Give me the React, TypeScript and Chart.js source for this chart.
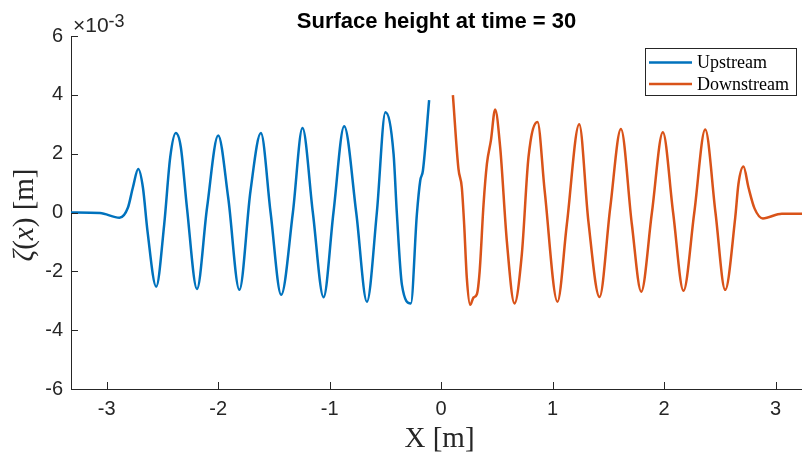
import React, { useEffect, useRef } from "react";
import { Chart, registerables } from "chart.js";

Chart.register(...registerables);

// ---------- data ----------
const TITLE = "Surface height at time = 30";
const X_LABEL = "X [m]";
const Y_EXPONENT = "-3"; // values below are in units of 10^-3 m
const SERIES_LABELS = ["Upstream", "Downstream"];
const X_TICKS = [-3, -2, -1, 0, 1, 2, 3];
const Y_TICKS = [-6, -4, -2, 0, 2, 4, 6];
const X_RANGE = [-3.32, 3.236];
const Y_RANGE = [-6, 6];

const UP_X = [
  -3.32, -3.06, -2.885, -2.81, -2.765, -2.717, -2.675, -2.634, -2.556, -2.484,
  -2.43, -2.38, -2.335, -2.28, -2.19, -2.1, -2.0, -1.91, -1.81, -1.71,
  -1.617, -1.53, -1.435, -1.33, -1.244, -1.151, -1.055, -0.966, -0.87, -0.762,
  -0.666, -0.577, -0.5, -0.427, -0.398, -0.352, -0.272, -0.218, -0.188, -0.164,
  -0.108,
];
const UP_Y = [
  0.0, -0.02, -0.18, 0.16, 0.85, 1.48, 0.85, -0.63, -2.52, -0.4,
  1.88, 2.7, 2.22, 0.16, -2.6, 0.16, 2.62, 0.5, -2.63, 0.74,
  2.7, 0.0, -2.8, 0.0, 2.87, 0.0, -2.88, 0.0, 2.93, 0.0,
  -3.03, 0.0, 3.41, 1.99, 0.0, -2.46, -3.09, -0.06, 1.08, 1.42,
  3.82,
];

const DOWN_X = [
  0.105, 0.155, 0.185, 0.206, 0.23, 0.26, 0.29, 0.32, 0.345, 0.38,
  0.41, 0.446, 0.484, 0.529, 0.589, 0.657, 0.723, 0.783, 0.864, 0.928,
  1.043, 1.127, 1.238, 1.32, 1.42, 1.516, 1.612, 1.71, 1.794, 1.89,
  1.988, 2.08, 2.173, 2.27, 2.368, 2.46, 2.547, 2.637, 2.666, 2.711,
  2.756, 2.81, 2.885, 3.055, 3.24,
];
const DOWN_Y = [
  3.99, 1.48, 0.85, -0.4, -2.23, -3.14, -2.89, -2.78, -2.0, 0.28,
  1.65, 2.45, 3.5, 2.22, -0.98, -3.09, -1.43, 1.88, 3.08, 0.74,
  -3.03, -0.4, 3.0, -0.29, -2.87, 0.16, 2.84, -0.4, -2.69, 0.0,
  2.73, 0.0, -2.66, 0.0, 2.82, 0.0, -2.63, -0.18, 0.97, 1.56,
  0.85, 0.14, -0.2, -0.04, -0.04,
];

// ---------- styling ----------
const AXIS = "#262626";
const BLUE = "#0072BD";
const ORANGE = "#D95319";
const SANS = "'Liberation Sans', Arial, Helvetica, sans-serif";
const SERIF = "'Liberation Serif', 'Times New Roman', serif";

const decorations = {
  id: "decorations",
  afterDraw(chart: any) {
    const { ctx, chartArea: a, scales } = chart;
    const xs = scales.x;
    const ys = scales.y;
    ctx.save();

    // inward tick marks
    ctx.strokeStyle = AXIS;
    ctx.lineWidth = 1;
    ctx.beginPath();
    X_TICKS.forEach((v) => {
      const p = Math.round(xs.getPixelForValue(v)) + 0.5;
      ctx.moveTo(p, a.bottom);
      ctx.lineTo(p, a.bottom - 7);
    });
    Y_TICKS.forEach((v) => {
      const p = Math.round(ys.getPixelForValue(v)) + 0.5;
      ctx.moveTo(a.left, p);
      ctx.lineTo(a.left + 7, p);
    });
    ctx.stroke();

    // title
    ctx.fillStyle = "#000";
    ctx.font = `bold 22px ${SANS}`;
    ctx.textAlign = "center";
    ctx.textBaseline = "alphabetic";
    ctx.fillText(TITLE, (a.left + a.right) / 2, 28);

    // exponent label
    ctx.fillStyle = AXIS;
    ctx.textAlign = "left";
    ctx.font = `21px ${SANS}`;
    const base = "\u00d710";
    ctx.fillText(base, a.left + 2, 32);
    const bw = ctx.measureText(base).width;
    ctx.font = `18px ${SANS}`;
    ctx.fillText(Y_EXPONENT, a.left + 2 + bw, 27);

    // x axis title
    ctx.fillStyle = AXIS;
    ctx.font = `29px ${SERIF}`;
    ctx.textAlign = "center";
    ctx.fillText(X_LABEL, (a.left + a.right) / 2 + 3, 447);

    // y axis title  ζ(x) [m]
    const parts: [string, boolean][] = [
      ["\u03b6", true],
      ["(", false],
      ["x", true],
      [")", false],
      [" [m]", false],
    ];
    const fontFor = (it: boolean) => `${it ? "italic " : ""}29px ${SERIF}`;
    let total = 0;
    const widths = parts.map(([t, it]) => {
      ctx.font = fontFor(it);
      const w = ctx.measureText(t).width;
      total += w;
      return w;
    });
    ctx.save();
    ctx.translate(33, 215);
    ctx.rotate(-Math.PI / 2);
    ctx.textAlign = "left";
    let cx = -total / 2;
    parts.forEach(([t, it], i) => {
      ctx.font = fontFor(it);
      ctx.fillText(t, cx, 0);
      cx += widths[i];
    });
    ctx.restore();

    // legend
    const lx = 645.5, ly = 48.5, lw = 151, lh = 47;
    ctx.fillStyle = "#fff";
    ctx.fillRect(lx, ly, lw, lh);
    ctx.strokeStyle = AXIS;
    ctx.lineWidth = 1;
    ctx.strokeRect(lx, ly, lw, lh);
    const rows = [62.5, 84];
    chart.data.datasets.forEach((ds: any, i: number) => {
      const y = rows[i];
      ctx.strokeStyle = ds.borderColor;
      ctx.lineWidth = 2.5;
      ctx.beginPath();
      ctx.moveTo(649, y);
      ctx.lineTo(692, y);
      ctx.stroke();
      ctx.fillStyle = "#000";
      ctx.font = `18px ${SERIF}`;
      ctx.textAlign = "left";
      ctx.textBaseline = "middle";
      ctx.fillText(ds.label, 697, y + 1);
    });

    ctx.restore();
  },
};

export default function App() {
  const ref = useRef<HTMLCanvasElement | null>(null);

  useEffect(() => {
    const canvas = ref.current;
    if (!canvas) return;
    const toPoints = (xs: number[], ys: number[]) => xs.map((x, i) => ({ x, y: ys[i] }));
    const chart = new Chart(canvas, {
      type: "line",
      data: {
        datasets: [
          {
            label: SERIES_LABELS[0],
            data: toPoints(UP_X, UP_Y),
            borderColor: BLUE,
            backgroundColor: BLUE,
            borderWidth: 2.5,
            pointRadius: 0,
            cubicInterpolationMode: "monotone",
            fill: false,
          },
          {
            label: SERIES_LABELS[1],
            data: toPoints(DOWN_X, DOWN_Y),
            borderColor: ORANGE,
            backgroundColor: ORANGE,
            borderWidth: 2.5,
            pointRadius: 0,
            cubicInterpolationMode: "monotone",
            fill: false,
          },
        ],
      },
      options: {
        responsive: false,
        animation: false,
        devicePixelRatio: 1,
        layout: { padding: { top: 36, left: 0, right: 0, bottom: 0 } },
        plugins: {
          legend: { display: false },
          title: { display: false },
          tooltip: { enabled: false },
        },
        scales: {
          x: {
            type: "linear",
            min: X_RANGE[0],
            max: X_RANGE[1],
            afterBuildTicks: (s: any) => {
              s.ticks = X_TICKS.map((v) => ({ value: v }));
            },
            afterFit: (s: any) => {
              s.height = 67;
            },
            grid: { display: false, drawTicks: false },
            border: { display: true, color: AXIS, width: 1 },
            ticks: {
              color: AXIS,
              font: { family: SANS, size: 20 },
              padding: 8,
              maxRotation: 0,
              autoSkip: false,
              callback: (v: any) => String(v),
            },
          },
          y: {
            type: "linear",
            min: Y_RANGE[0],
            max: Y_RANGE[1],
            afterBuildTicks: (s: any) => {
              s.ticks = Y_TICKS.map((v) => ({ value: v }));
            },
            afterFit: (s: any) => {
              s.width = 71;
            },
            grid: { display: false, drawTicks: false },
            border: { display: true, color: AXIS, width: 1 },
            ticks: {
              color: AXIS,
              font: { family: SANS, size: 20 },
              padding: 8,
              autoSkip: false,
              callback: (v: any) => String(v),
            },
          },
        },
      },
      plugins: [decorations],
    } as any);
    return () => chart.destroy();
  }, []);

  return (
    <div style={{ position: "fixed", left: 0, top: 0, width: 802, height: 456, background: "#fff" }}>
      <canvas ref={ref} width={802} height={456} style={{ display: "block" }} />
    </div>
  );
}
